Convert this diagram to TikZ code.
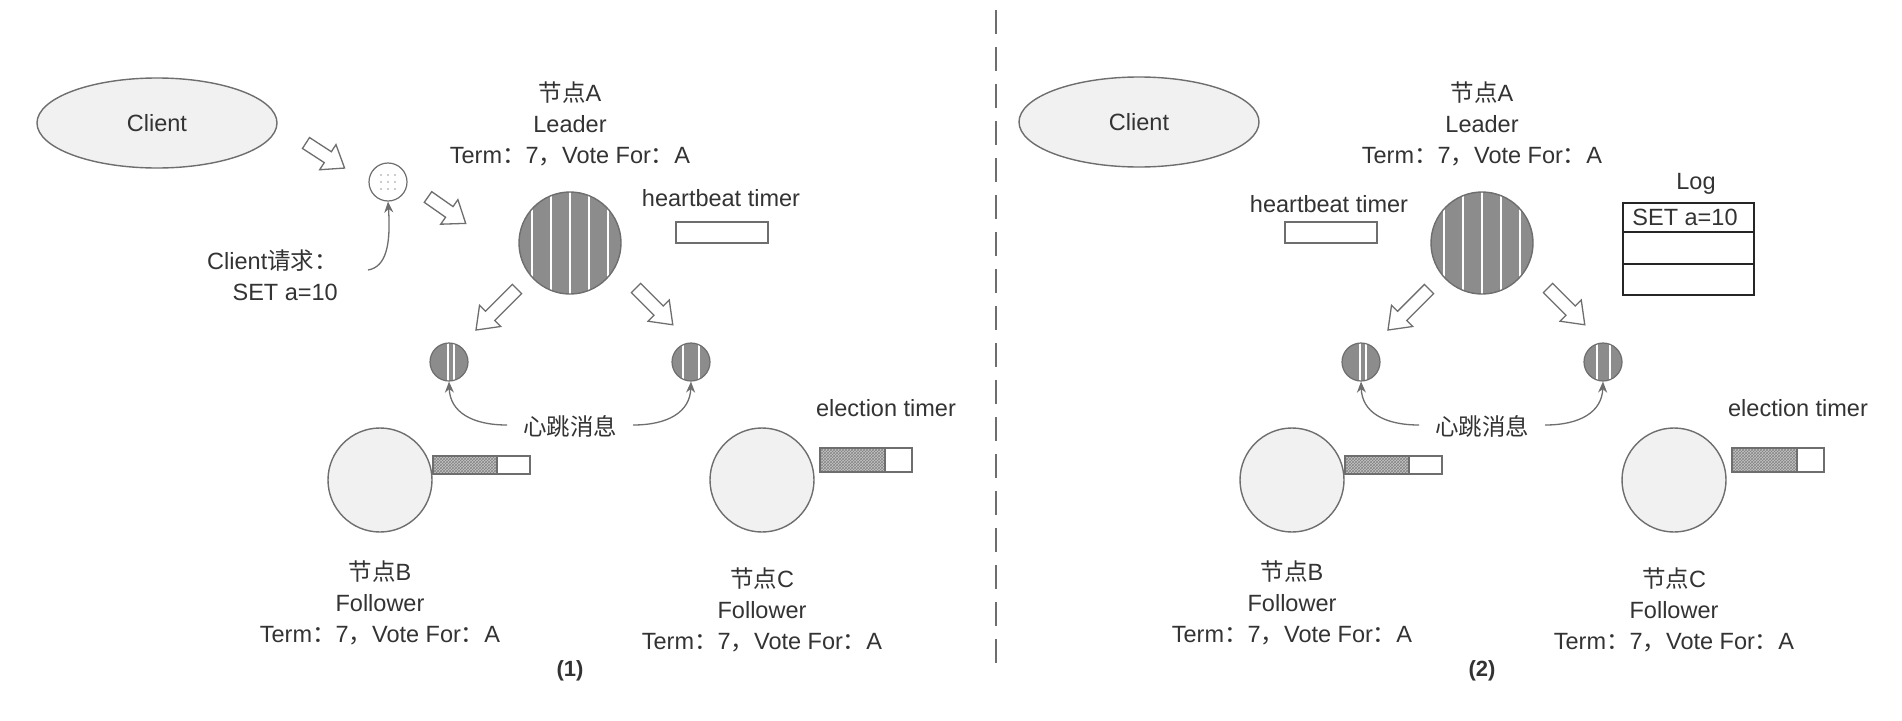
\documentclass[tikz,border=0pt]{standalone}
\usepackage{fontspec}
\setmainfont{Liberation Sans}
\newfontfamily\cjk{Noto Sans CJK SC}
\usetikzlibrary{shapes.geometric,patterns,arrows.meta}
\definecolor{txt}{HTML}{333333}
\definecolor{edge}{HTML}{6E6E6E}
\definecolor{msgfill}{HTML}{8C8C8C}
\definecolor{lightfill}{HTML}{F1F1F1}
\definecolor{hatchbg}{HTML}{C6C6C6}
\definecolor{hatchfg}{HTML}{858585}
\newcommand{\zh}[1]{{\cjk #1}}
\newcommand{\lblfont}{\fontsize{23.5}{31}\selectfont}
\newcommand{\termline}{Term\zh{：}7\zh{，}Vote For\zh{：}A}
\newcommand{\etimer}[5]{%
  \fill[hatchbg] (#1,#2) rectangle (#5,#4);
  \fill[pattern=crosshatch, pattern color=hatchfg] (#1,#2) rectangle (#5,#4);
  \draw[draw=edge, line width=1.1pt] (#1,#2) rectangle (#3,#4) (#5,#2) -- (#5,#4);
}
\tikzset{
  lbl/.style={font=\lblfont, text=txt, inner sep=0pt},
  stripes/.style={path picture={\foreach \dx in {#1}{\draw[white, line width=1.6pt] (path picture bounding box.north) ++(\dx,-2) -- ++(0,130);}}},
  bigmsg/.style={circle, draw=edge, line width=1.4pt, fill=msgfill, minimum size=102pt, inner sep=0pt, stripes={-38,-19,0,19,38}},
  smallmsg/.style={circle, draw=edge, line width=1.2pt, fill=msgfill, minimum size=38pt, inner sep=0pt, stripes={#1}},
  follower/.style={circle, draw=edge, line width=1.4pt, fill=lightfill, minimum size=104pt, inner sep=0pt},
  client/.style={ellipse, draw=edge, line width=1.4pt, fill=lightfill, minimum width=240pt, minimum height=90pt, inner sep=0pt, font=\lblfont, text=txt},
  reqmsg/.style={circle, draw=edge, line width=1.2pt, fill=white, minimum size=38pt, inner sep=0pt,
    path picture={\foreach \i in {-7,0,7}{\foreach \j in {-7,0,7}{\fill[edge!70] (path picture bounding box.center) ++(\i,\j) circle[radius=0.9];}}}},
  hbtimer/.style={rectangle, draw=edge, line width=1.1pt, fill=white, minimum width=92pt, minimum height=21pt, inner sep=0pt},
  thinarr/.style={draw=edge, line width=1.3pt, -{Stealth[length=11pt,width=9pt]}},
  pics/barrow/.style={code={\draw[draw=edge, line width=1.3pt, fill=white, line join=miter]
     (0,-6.5) -- (#1-20,-6.5) -- (#1-20,-15) -- (#1,0) -- (#1-20,15) -- (#1-20,6.5) -- (0,6.5) -- cycle;}},
  caption/.style={font=\bfseries\fontsize{22}{26}\selectfont, text=txt, inner sep=0pt}
}
\newcommand{\sharedpanel}[2]{%
  \node[bigmsg] (A) at (570,243) {};
  \node[lbl, align=center] (Alab) at (570,124) {\zh{节点}A\\Leader\\\termline};
  \pic[rotate=-135] at (517,289) {barrow=58};
  \pic[rotate=-45] at (636,288) {barrow=52};
  \node[smallmsg={#1}] (mB) at (449,362) {};
  \node[smallmsg={#2}] (mC) at (691,362) {};
  \node[lbl] (hb) at (570,426) {\zh{心跳消息}};
  \coordinate (hbL) at (507,425);
  \coordinate (hbR) at (633,425);
  \draw[thinarr] (hbL) .. controls (472,425) and (450,412) .. (mB.south);
  \draw[thinarr] (hbR) .. controls (668,425) and (690,412) .. (mC.south);
  \node[follower] (B) at (380,480) {};
  \etimer{433}{456}{530}{474}{497}
  \node[lbl, align=center] (Blab) at (380,603) {\zh{节点}B\\Follower\\\termline};
  \node[follower] (C) at (762,480) {};
  \etimer{820}{448}{912}{472}{885}
  \node[lbl] (et) at (886,408) {election timer};
  \node[lbl, align=center] (Clab) at (762,610) {\zh{节点}C\\Follower\\\termline};
}
\begin{document}
\begin{tikzpicture}[x=1pt, y=-1pt]
\useasboundingbox (0,0) rectangle (1902,720);
\fill[white] (0,0) rectangle (1902,720);
% ---------- panel (1) ----------
\begin{scope}[name prefix=L-]
  \node[client] (client) at (157,123) {Client};
  \pic[rotate=-33] at (306,143) {barrow=46};
  \node[reqmsg] (req) at (388,182) {};
  \pic[rotate=-35] at (428,197) {barrow=46};
  \node[lbl, align=right, anchor=east] (reqlab) at (338,275) {Client\zh{请求：}\\SET a=10};
  \coordinate (reqc) at (368,270);
  \draw[thinarr] (reqc) .. controls (386,267) and (391,245) .. (req.south);
  \node[lbl] (hbt) at (721,198) {heartbeat timer};
  \node[hbtimer] (hbbox) at (722,232.5) {};
  \sharedpanel{-1,5}{-8,8}
  \node[caption] (cap) at (570,671) {(1)};
\end{scope}
% ---------- divider ----------
\draw[draw=edge, line width=1.6pt, dash pattern=on 24pt off 13pt] (996,10) -- (996,673);
% ---------- panel (2) ----------
\begin{scope}[shift={(912,0)}, name prefix=R-]
  \node[client] (client) at (227,122) {Client};
  \node[lbl] (hbt) at (417,204) {heartbeat timer};
  \node[hbtimer] (hbbox) at (419,232.5) {};
  \node[lbl] (loglab) at (784,184) {Log};
  \node[draw=black!85, line width=1.6pt, minimum width=131pt, minimum height=92pt, inner sep=0pt] (log) at (776.5,249) {};
  \draw[draw=black!85, line width=1.6pt] (711,232) -- (842,232) (711,264) -- (842,264);
  \node[lbl] (logrow) at (773,217) {SET a=10};
  \sharedpanel{-1,5}{-6,7}
  \node[caption] (cap) at (570,671) {(2)};
\end{scope}
\end{tikzpicture}
\end{document}
